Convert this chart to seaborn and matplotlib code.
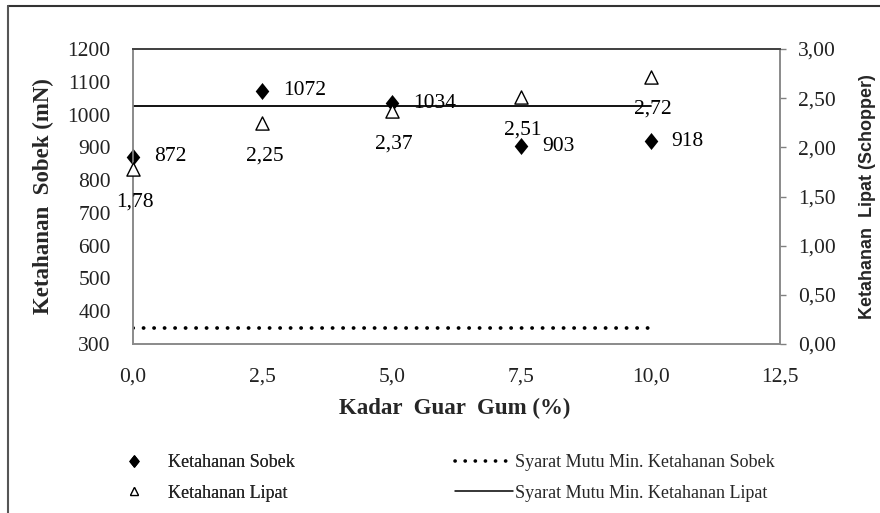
import matplotlib
matplotlib.use("Agg")
import matplotlib.pyplot as plt
import seaborn as sns
import pandas as pd
from matplotlib.path import Path
from matplotlib.lines import Line2D
from matplotlib.ticker import FixedLocator, FuncFormatter

# Kadar guar gum (%) and measured properties
guar_gum = [0.0, 2.5, 5.0, 7.5, 10.0]
ketahanan_sobek = [872, 1072, 1034, 903, 918]          # mN
ketahanan_lipat = [1.78, 2.25, 2.37, 2.51, 2.72]       # Schopper

# Minimum quality requirements (drawn across the tested range)
syarat_x = [0.0, 10.0]
syarat_sobek = [350, 350]
syarat_lipat = [2.42, 2.42]

x_ticks = [0.0, 2.5, 5.0, 7.5, 10.0, 12.5]
left_ticks = [300, 400, 500, 600, 700, 800, 900, 1000, 1100, 1200]
right_ticks = [0.0, 0.5, 1.0, 1.5, 2.0, 2.5, 3.0]

sns.set_theme(style="white")
plt.rcParams['font.family'] = ['Liberation Serif', 'DejaVu Serif']

W, H = 880, 513
fig = plt.figure(figsize=(W / 100, H / 100), dpi=100)
x0, x1, ytop, ybot = 133, 780, 49, 344
ax = fig.add_axes([x0 / W, 1 - ybot / H, (x1 - x0) / W, (ybot - ytop) / H])
ax2 = ax.twinx()

df = pd.DataFrame({"guar": guar_gum, "sobek": ketahanan_sobek, "lipat": ketahanan_lipat})

# tall diamond marker
diamond = Path([(0, 1), (0.8, 0), (0, -1), (-0.8, 0), (0, 1)],
               [Path.MOVETO, Path.LINETO, Path.LINETO, Path.LINETO, Path.CLOSEPOLY])
dots = (0, (0.05, 2.75))

sns.lineplot(x=syarat_x, y=syarat_sobek, ax=ax, color="black", linewidth=2.7,
             linestyle=dots, dash_capstyle="round")
sns.lineplot(x=syarat_x, y=syarat_lipat, ax=ax2, color="black", linewidth=1.3)

sns.scatterplot(data=df, x="guar", y="sobek", ax=ax, marker=diamond, s=150,
                color="black", edgecolor="black", linewidth=0, zorder=5, clip_on=False)
sns.scatterplot(data=df, x="guar", y="lipat", ax=ax2, marker="^", s=90,
                color="white", edgecolor="black", linewidth=1.0, zorder=5, clip_on=False)

lab_fs = 15.5
for xv, v in zip(guar_gum, ketahanan_sobek):
    ax.annotate(f"{v}", (xv, v), xytext=(21, 0), textcoords="offset pixels",
                ha="left", va="center", fontsize=lab_fs, color="black")
for xv, v in zip(guar_gum, ketahanan_lipat):
    ax2.annotate(f"{v:.2f}".replace(".", ","), (xv, v), xytext=(2, -33),
                 textcoords="offset pixels", ha="center", va="center",
                 fontsize=lab_fs, color="black")

ax.set_xlim(0, 12.5)
ax.set_ylim(300, 1200)
ax2.set_ylim(0, 3)

ax.xaxis.set_major_locator(FixedLocator(x_ticks))
ax.xaxis.set_major_formatter(FuncFormatter(lambda v, p: f"{v:.1f}".replace(".", ",")))
ax.yaxis.set_major_locator(FixedLocator(left_ticks))
ax2.yaxis.set_major_locator(FixedLocator(right_ticks))
ax2.yaxis.set_major_formatter(FuncFormatter(lambda v, p: f"{v:.2f}".replace(".", ",")))

ax.tick_params(axis="x", length=0, pad=17, labelsize=lab_fs, colors="#222222")
ax.tick_params(axis="y", length=0, pad=16, labelsize=lab_fs, colors="#222222")
ax2.tick_params(axis="y", right=True, length=4, width=1, color="#808080",
                direction="out", pad=9, labelsize=lab_fs, labelcolor="#222222")

for a in (ax, ax2):
    for side in ("left", "right", "bottom"):
        a.spines[side].set_color("#8a8a8a")
        a.spines[side].set_linewidth(1.2)
    a.spines["top"].set_color("#444444")
    a.spines["top"].set_linewidth(1.4)

ax.set_xlabel("Kadar  Guar  Gum (%)", fontsize=16.5, fontweight="bold", va="center")
ax.xaxis.set_label_coords((455 - x0) / (x1 - x0), -(408 - ybot) / (ybot - ytop))
ax.set_ylabel("Ketahanan  Sobek (mN)", fontsize=16.5, fontweight="bold", va="center")
ax.yaxis.set_label_coords((43 - x0) / (x1 - x0), 0.5)
ax2.set_ylabel("Ketahanan  Lipat (Schopper)", fontsize=13, fontweight="bold",
               family=["Liberation Sans", "DejaVu Sans"], va="center")
ax2.yaxis.set_label_coords((867 - x0) / (x1 - x0), 0.5)

# legend rows underneath the plot
h_sobek = Line2D([], [], marker=diamond, markersize=8, color="black", linestyle="none")
h_lipat = Line2D([], [], marker="^", markersize=6, markerfacecolor="white",
                 markeredgecolor="black", markeredgewidth=0.9, linestyle="none")
h_min_sobek = Line2D([], [], color="black", linewidth=2.6, linestyle=dots,
                     dash_capstyle="round")
h_min_lipat = Line2D([], [], color="black", linewidth=1.1)

leg_fs = 13
leg1 = fig.legend([h_sobek, h_lipat], ["Ketahanan Sobek", "Ketahanan Lipat"],
                  loc="upper left", bbox_to_anchor=(123 / W, 1 - 454 / H),
                  frameon=False, fontsize=leg_fs, handlelength=1.2, handletextpad=1.3,
                  labelspacing=0.75, borderpad=0, borderaxespad=0)
fig.add_artist(leg1)
fig.legend([h_min_sobek, h_min_lipat],
           ["Syarat Mutu Min. Ketahanan Sobek", "Syarat Mutu Min. Ketahanan Lipat"],
           loc="upper left", bbox_to_anchor=(455 / W, 1 - 454 / H),
           frameon=False, fontsize=leg_fs, handlelength=3.2, handletextpad=0.15,
           labelspacing=0.75, borderpad=0, borderaxespad=0)

# outer frame (top and left edges)
fig.add_artist(Line2D([8 / W, 1.0], [1 - 6 / H, 1 - 6 / H], transform=fig.transFigure,
                      color="#333333", linewidth=1.5))
fig.add_artist(Line2D([8 / W, 8 / W], [0.0, 1 - 6 / H], transform=fig.transFigure,
                      color="#555555", linewidth=1.5))

fig.savefig("out.png", dpi=100, facecolor="white")
